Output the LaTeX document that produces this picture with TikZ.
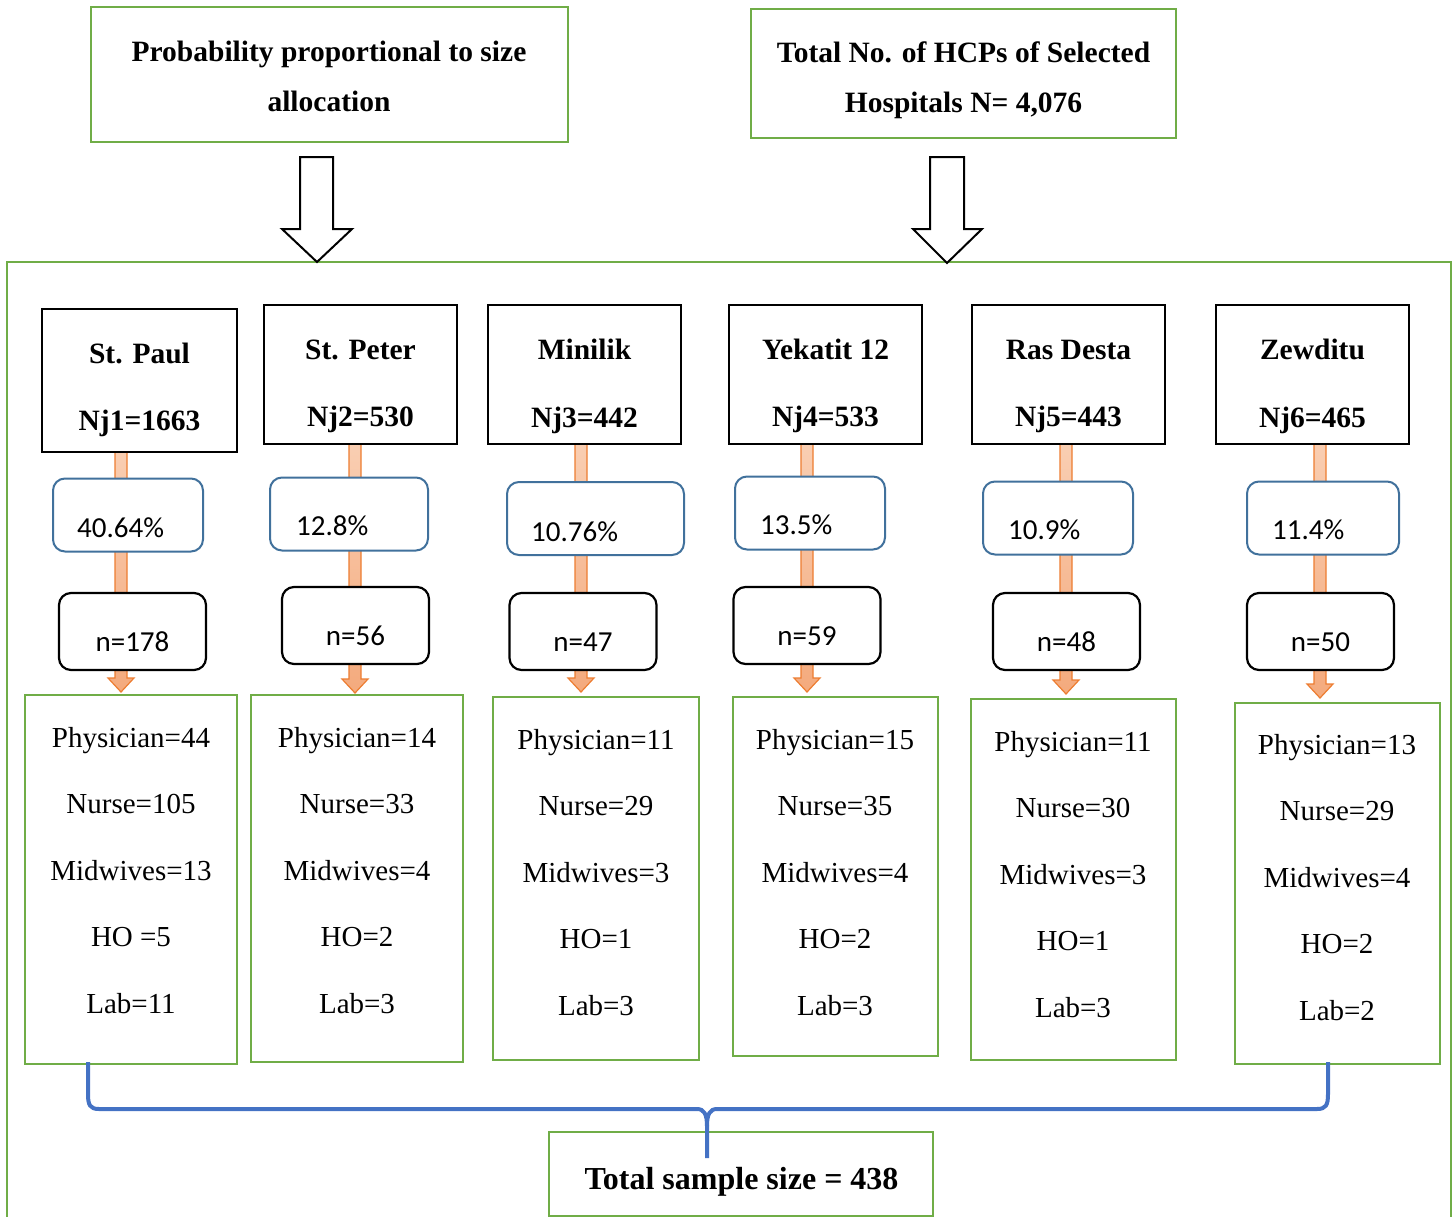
\documentclass[tikz,border=0pt]{standalone}
\usepackage{fontspec}
\setmainfont{Liberation Serif}
\newfontfamily\calfont{Carlito}
\usetikzlibrary{calc}
\definecolor{grn}{RGB}{112,173,71}
\definecolor{bluebd}{RGB}{65,113,156}
\definecolor{bracecol}{RGB}{68,114,196}
\definecolor{orbd}{RGB}{237,125,49}
\definecolor{orlight}{RGB}{249,206,178}
\definecolor{orfill}{RGB}{244,170,125}
\begin{document}
\begin{tikzpicture}[x=1pt,y=-1pt,
  greenbox/.style={draw=grn, line width=2.5pt, fill=white, inner sep=0pt, rectangle},
  hospbox/.style={draw=black, line width=2.5pt, fill=white, inner sep=0pt, rectangle},
  pctbox/.style={draw=bluebd, line width=2pt, rounded corners=12pt, fill=white, inner sep=0pt, rectangle},
  nbox/.style={draw=black, line width=2.2pt, rounded corners=12pt, fill=white, inner sep=0pt, rectangle},
  serif/.style={font=\fontsize{29}{35}\selectfont, inner sep=0pt, anchor=base},
  boldtxt/.style={font=\fontsize{29.5}{35}\selectfont\bfseries, inner sep=0pt, anchor=base},
  sanstxt/.style={font=\fontsize{29}{35}\selectfont\calfont, inner sep=0pt, anchor=base},
  blockarrow/.style={draw=black, line width=2pt, fill=white, line join=miter},
  orarrow/.style={draw=orbd, line width=1.2pt, top color=orlight, bottom color=orfill},
  bracestyle/.style={draw=bracecol, line width=4pt}
]
\useasboundingbox (0,0) rectangle (1456,1216);

% outer frame
\draw[grn, line width=2.5pt] (7,1218) -- (7,262) -- (1451,262) -- (1451,1218);

% top boxes
\node[greenbox, minimum width=477, minimum height=135] (topL) at (329.5,74.5) {};
\node[boldtxt] (topLa) at (329,61) {Probability proportional to size};
\node[boldtxt] (topLb) at (329,111) {allocation};
\node[greenbox, minimum width=425, minimum height=129] (topR) at (963.5,73.5) {};
\node[boldtxt] (topRa) at (963.5,62) {Total No. of HCPs of Selected};
\node[boldtxt] (topRb) at (963.5,112) {Hospitals N= 4,076};

% block arrows
\coordinate (aL) at (317,157);
\coordinate (aR) at (947,157);
\draw[blockarrow] ($(aL)+(-17,0)$) -- ($(aL)+(-17,72)$) -- ($(aL)+(-35,72)$) -- ($(aL)+(0,105)$) -- ($(aL)+(35,72)$) -- ($(aL)+(16,72)$) -- ($(aL)+(16,0)$) -- cycle;
\draw[blockarrow] ($(aR)+(-17,0)$) -- ($(aR)+(-17,72)$) -- ($(aR)+(-34,72)$) -- ($(aR)+(0,106)$) -- ($(aR)+(35,72)$) -- ($(aR)+(17,72)$) -- ($(aR)+(17,0)$) -- cycle;

% orange arrows (behind boxes)
\foreach \i/\x/\ya/\yb in {1/121/452/692, 2/355/444/693, 3/581/444/692, 4/807/444/692, 5/1066/444/694, 6/1320/444/698}{
  \coordinate (os\i) at (\x,\ya);
  \coordinate (oe\i) at (\x,\yb);
  \draw[orarrow] ($(os\i)+(-6,0)$) -- ($(oe\i)+(-6,-14)$) -- ($(oe\i)+(-13,-14)$) -- (oe\i) -- ($(oe\i)+(13,-14)$) -- ($(oe\i)+(6,-14)$) -- ($(os\i)+(6,0)$) -- cycle;
}

% hospital boxes
\foreach \i/\cx/\cy/\w/\h/\ya/\yb/\nm/\nj in {
  1/139.5/380.5/195/143/363/430/St. Paul/Nj1=1663,
  2/360.5/374.5/193/139/359/426/St. Peter/Nj2=530,
  3/584.5/374.5/193/139/359/427/Minilik/Nj3=442,
  4/825.5/374.5/193/139/359/426/Yekatit 12/Nj4=533,
  5/1068.5/374.5/193/139/359/426/Ras Desta/Nj5=443,
  6/1312.5/374.5/193/139/359/427/Zewditu/Nj6=465}{
  \node[hospbox, minimum width=\w, minimum height=\h] (h\i) at (\cx,\cy) {};
  \node[boldtxt] (hn\i) at (\cx,\ya) {\nm};
  \node[boldtxt] (hj\i) at (\cx,\yb) {\nj};
}

% percentage boxes
\foreach \i/\cx/\cy/\w/\tx/\ty/\pc in {
  1/128/515/150/77/537/40.64\%,
  2/349/514/158/296/535/12.8\%,
  3/595.5/518.5/177/531/541/10.76\%,
  4/810/513/150/760/534/13.5\%,
  5/1058/518/150/1008/539/10.9\%,
  6/1323/518/152/1272/539/11.4\%}{
  \node[pctbox, minimum width=\w, minimum height=73] (p\i) at (\cx,\cy) {};
  \node[sanstxt, anchor=base west] (pt\i) at (\tx,\ty) {\pc};
}

% n boxes
\foreach \i/\cx/\cy/\ty/\nn in {
  1/132.5/631.5/651/n=178,
  2/355.5/625.5/645/n=56,
  3/583/631.5/651/n=47,
  4/807/625.5/645/n=59,
  5/1066.5/631.5/651/n=48,
  6/1320.5/631.5/651/n=50}{
  \node[nbox, minimum width=147, minimum height=77] (n\i) at (\cx,\cy) {};
  \node[sanstxt] (nt\i) at (\cx,\ty) {\nn};
}

% green detail boxes
\foreach \i/\cx/\cy/\w/\h/\tx/\ty/\la/\lb/\lc/\ld/\le in {
  1/131/879.5/212/369/131/747/Physician=44/Nurse=105/Midwives=13/HO =5/Lab=11,
  2/357/878.5/212/367/357/747/Physician=14/Nurse=33/Midwives=4/HO=2/Lab=3,
  3/596/878.5/206/363/596/749/Physician=11/Nurse=29/Midwives=3/HO=1/Lab=3,
  4/835.5/876.5/205/359/835/749/Physician=15/Nurse=35/Midwives=4/HO=2/Lab=3,
  5/1073.5/879.5/205/361/1073/751/Physician=11/Nurse=30/Midwives=3/HO=1/Lab=3,
  6/1337.5/883.5/205/361/1337/754/Physician=13/Nurse=29/Midwives=4/HO=2/Lab=2}{
  \node[greenbox, minimum width=\w, minimum height=\h] (g\i) at (\cx,\cy) {};
  \node[serif] (ga\i) at (\tx,\ty) {\la};
  \node[serif] (gb\i) at (\tx,\ty+66.5) {\lb};
  \node[serif] (gc\i) at (\tx,\ty+133) {\lc};
  \node[serif] (gd\i) at (\tx,\ty+199.5) {\ld};
  \node[serif] (ge\i) at (\tx,\ty+266) {\le};
}

% total box
\node[greenbox, minimum width=384, minimum height=84] (tot) at (741,1174) {};
\node[font=\fontsize{32}{38}\selectfont\bfseries, inner sep=0pt, anchor=base] (tott) at (741.5,1189) {Total sample size = 438};

% brace
\coordinate (brL) at (88,1062);
\coordinate (brR) at (1328,1062);
\coordinate (brM) at (707,1158);
\draw[bracestyle, line cap=butt] (brL) -- (88,1094) .. controls (88,1105) and (90,1109) .. (99,1109)
  -- (697,1109) .. controls (704,1109) and (707,1114) .. (707,1126) -- (brM);
\draw[bracestyle, line cap=butt] (brR) -- (1328,1094) .. controls (1328,1105) and (1326,1109) .. (1317,1109)
  -- (717,1109) .. controls (710,1109) and (707,1114) .. (707,1126);
\end{tikzpicture}
\end{document}
